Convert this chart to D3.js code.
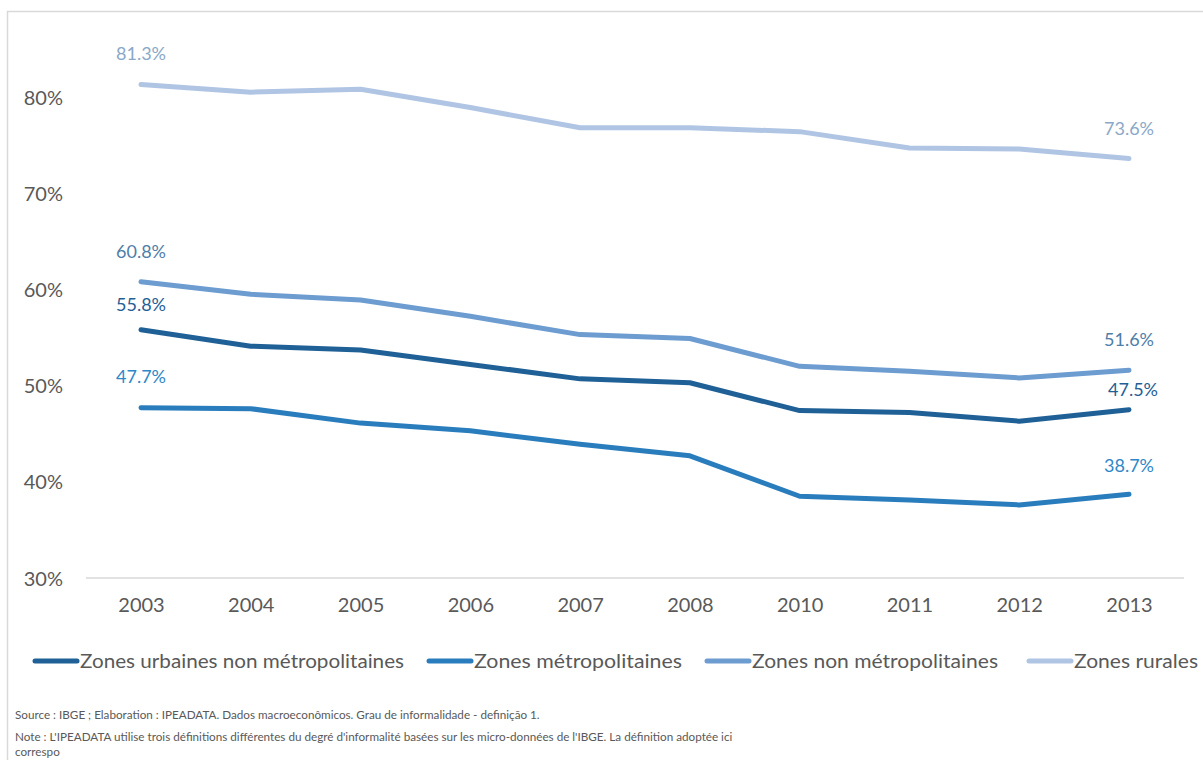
<!DOCTYPE html>
<html><head><meta charset="utf-8">
<script src="https://cdn.jsdelivr.net/npm/d3@7"></script>
<style>
body{margin:0;background:#fff;}
svg{display:block;font-family:Lato,"Open Sans",sans-serif;}
</style></head>
<body><svg id="c" width="1203" height="760"></svg>
<script>
const years = ["2003","2004","2005","2006","2007","2008","2010","2011","2012","2013"];
const urbNonMetro = [55.8,54.1,53.7,52.2,50.7,50.3,47.4,47.2,46.3,47.5];
const metro = [47.7,47.6,46.1,45.3,43.9,42.7,38.5,38.1,37.6,38.7];
const nonMetro = [60.8,59.5,58.9,57.2,55.3,54.9,52.0,51.5,50.8,51.6];
const rural = [81.3,80.5,80.8,78.9,76.8,76.8,76.4,74.7,74.6,73.6];
const yTicks = [30,40,50,60,70,80];
const seriesNames = ["Zones urbaines non métropolitaines","Zones métropolitaines","Zones non métropolitaines","Zones rurales"];
const sourceLines = [
 "Source :  IBGE ; Elaboration : IPEADATA. Dados macroeconômicos. Grau de informalidade - definição 1.",
 "Note : L'IPEADATA utilise trois définitions différentes du degré d'informalité basées sur les micro-données de l'IBGE. La définition adoptée ici",
 "correspo"
];

const series = [
 {name:seriesNames[0], values:urbNonMetro, color:"#1f6096", label:"#1f6096", dyS:-25, dyE:-20, dxE:4},
 {name:seriesNames[1], values:metro, color:"#2a7dbd", label:"#2e87c9", dyS:-31, dyE:-29, dxE:0},
 {name:seriesNames[2], values:nonMetro, color:"#6c9cd0", label:"#4f7ea8", dyS:-30, dyE:-31, dxE:0},
 {name:seriesNames[3], values:rural, color:"#b0c5e3", label:"#8aa8c8", dyS:-31, dyE:-30, dxE:0}
];

const svg = d3.select("#c");
// frame
svg.append("rect").attr("x",7.5).attr("y",11.5).attr("width",1220).attr("height",800)
  .attr("fill","none").attr("stroke","#d9d9d9").attr("stroke-width",1.5);

const x = d3.scalePoint().domain(years).range([141,1129]);
const y = d3.scaleLinear().domain([30,80]).range([578,97]);

// baseline
svg.append("line").attr("x1",86).attr("x2",1184).attr("y1",y(30)).attr("y2",y(30))
  .attr("stroke","#d9d9d9").attr("stroke-width",1.5);

// y axis
const yAxis = d3.axisLeft(y).tickValues(yTicks).tickFormat(d=>d+"%").tickSize(0).tickPadding(0);
const gy = svg.append("g").attr("transform","translate(63,0)").call(yAxis);
gy.select(".domain").remove();
gy.selectAll("text").attr("font-size",20).attr("fill","#595959").attr("font-family","Lato,sans-serif").attr("dy","0.35em");

// x axis
const xAxis = d3.axisBottom(x).tickSize(0).tickPadding(0);
const gx = svg.append("g").attr("transform","translate(0,598)").call(xAxis);
gx.select(".domain").remove();
gx.selectAll("text").attr("font-size",20).attr("fill","#595959").attr("font-family","Lato,sans-serif").attr("dy","0.7em");

const line = d3.line().x((d,i)=>x(years[i])).y(d=>y(d));
// draw order: rural, nonMetro, urbNonMetro, metro
[3,2,0,1].forEach(k=>{
  const s = series[k];
  svg.append("path").datum(s.values).attr("d",line).attr("fill","none")
    .attr("stroke",s.color).attr("stroke-width",5).attr("stroke-linecap","round").attr("stroke-linejoin","round");
});

series.forEach(s=>{
  const n = s.values.length;
  svg.append("text").attr("x",x(years[0])).attr("y",y(s.values[0])+s.dyS)
    .attr("text-anchor","middle").attr("dy","0.35em").attr("font-size",18).attr("fill",s.label)
    .text(s.values[0].toFixed(1)+"%");
  svg.append("text").attr("x",x(years[n-1])+s.dxE).attr("y",y(s.values[n-1])+s.dyE)
    .attr("text-anchor","middle").attr("dy","0.35em").attr("font-size",18).attr("fill",s.label)
    .text(s.values[n-1].toFixed(1)+"%");
});

// legend
const legX = [33,427,705,1027];
const legW = [324,208,246,124];
series.forEach((s,i)=>{
  const g = svg.append("g").attr("transform",`translate(${legX[i]},661)`);
  g.append("line").attr("x1",2).attr("x2",44).attr("y1",0).attr("y2",0)
    .attr("stroke",s.color).attr("stroke-width",5).attr("stroke-linecap","round");
  g.append("text").attr("x",47).attr("y",0).attr("dy","0.35em").attr("font-size",19.5)
    .attr("textLength",legW[i]).attr("lengthAdjust","spacingAndGlyphs")
    .attr("fill","#595959").text(s.name);
});

// source
sourceLines.forEach((t,i)=>{
  svg.append("text").attr("x",15).attr("y",[715,737,752][i]).attr("dy","0.35em")
    .attr("font-size",11.7).attr("fill","#595959").text(t);
});
</script></body></html>
